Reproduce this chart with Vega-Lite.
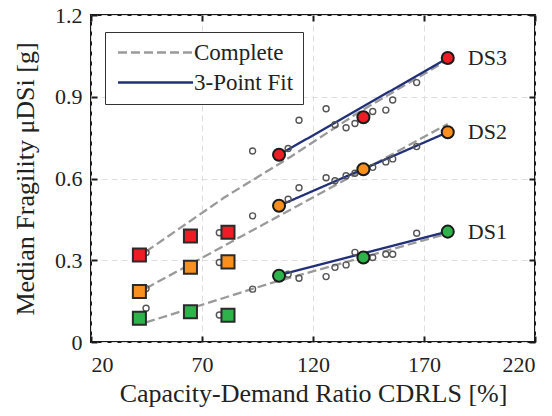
{
  "$schema": "https://vega.github.io/schema/vega-lite/v6.json",
  "width": 444,
  "height": 327,
  "autosize": {"type": "none"},
  "padding": {"left": 91, "top": 15, "right": 17, "bottom": 74},
  "background": "white",
  "config": {
    "view": {"stroke": "#1a1a1a", "strokeWidth": 2},
    "font": "Liberation Serif",
    "axis": {
      "labelFont": "Liberation Serif",
      "labelFontSize": 22,
      "labelColor": "#222222",
      "titleFont": "Liberation Serif",
      "titleFontSize": 26,
      "titleFontWeight": "normal",
      "titleColor": "#222222",
      "domain": false,
      "tickColor": "#1a1a1a",
      "tickWidth": 2,
      "tickSize": -6,
      "gridColor": "#dedede",
      "gridDash": [6, 4],
      "gridWidth": 1
    },
    "legend": {
      "labelFont": "Liberation Serif",
      "labelFontSize": 23,
      "labelColor": "#222222",
      "symbolType": "M-1,0H9",
      "symbolSize": 225,
      "symbolStrokeWidth": 2.5,
      "labelOffset": 57,
      "padding": 9,
      "rowPadding": 6,
      "strokeColor": "#333333",
      "fillColor": "white"
    }
  },
  "datasets": {
    "lines": [
      {"series": "Complete", "ds": "DS3", "x": 44.8, "y": 0.332},
      {"series": "Complete", "ds": "DS3", "x": 80, "y": 0.53},
      {"series": "Complete", "ds": "DS3", "x": 110, "y": 0.68},
      {"series": "Complete", "ds": "DS3", "x": 140, "y": 0.84},
      {"series": "Complete", "ds": "DS3", "x": 180.7, "y": 1.035},
      {"series": "Complete", "ds": "DS2", "x": 44.8, "y": 0.197},
      {"series": "Complete", "ds": "DS2", "x": 180.7, "y": 0.8},
      {"series": "Complete", "ds": "DS1", "x": 44.8, "y": 0.072},
      {"series": "Complete", "ds": "DS1", "x": 100.6, "y": 0.215},
      {"series": "Complete", "ds": "DS1", "x": 180.7, "y": 0.398},
      {"series": "3-Point Fit", "ds": "DS3", "x": 104.7, "y": 0.687},
      {"series": "3-Point Fit", "ds": "DS3", "x": 180.7, "y": 1.042},
      {"series": "3-Point Fit", "ds": "DS2", "x": 104.7, "y": 0.5},
      {"series": "3-Point Fit", "ds": "DS2", "x": 180.7, "y": 0.77},
      {"series": "3-Point Fit", "ds": "DS1", "x": 104.7, "y": 0.245},
      {"series": "3-Point Fit", "ds": "DS1", "x": 180.7, "y": 0.405}
    ],
    "small": [
      {"ds": "DS1", "x": 44.8, "y": 0.124},
      {"ds": "DS1", "x": 77.8, "y": 0.099},
      {"ds": "DS1", "x": 92.8, "y": 0.194},
      {"ds": "DS1", "x": 108.8, "y": 0.249},
      {"ds": "DS1", "x": 113.7, "y": 0.234},
      {"ds": "DS1", "x": 125.9, "y": 0.24},
      {"ds": "DS1", "x": 129.9, "y": 0.274},
      {"ds": "DS1", "x": 134.9, "y": 0.283},
      {"ds": "DS1", "x": 138.9, "y": 0.329},
      {"ds": "DS1", "x": 146.9, "y": 0.31},
      {"ds": "DS1", "x": 152.8, "y": 0.322},
      {"ds": "DS1", "x": 155.9, "y": 0.322},
      {"ds": "DS1", "x": 166.7, "y": 0.399},
      {"ds": "DS2", "x": 44.8, "y": 0.196},
      {"ds": "DS2", "x": 77.8, "y": 0.292},
      {"ds": "DS2", "x": 92.8, "y": 0.463},
      {"ds": "DS2", "x": 108.8, "y": 0.524},
      {"ds": "DS2", "x": 113.7, "y": 0.566},
      {"ds": "DS2", "x": 125.9, "y": 0.603},
      {"ds": "DS2", "x": 129.9, "y": 0.592},
      {"ds": "DS2", "x": 134.9, "y": 0.61},
      {"ds": "DS2", "x": 138.9, "y": 0.619},
      {"ds": "DS2", "x": 146.9, "y": 0.641},
      {"ds": "DS2", "x": 152.8, "y": 0.661},
      {"ds": "DS2", "x": 155.9, "y": 0.672},
      {"ds": "DS2", "x": 166.7, "y": 0.717},
      {"ds": "DS3", "x": 44.8, "y": 0.328},
      {"ds": "DS3", "x": 77.8, "y": 0.401},
      {"ds": "DS3", "x": 92.8, "y": 0.701},
      {"ds": "DS3", "x": 108.8, "y": 0.71},
      {"ds": "DS3", "x": 113.7, "y": 0.814},
      {"ds": "DS3", "x": 125.9, "y": 0.856},
      {"ds": "DS3", "x": 129.9, "y": 0.797},
      {"ds": "DS3", "x": 134.9, "y": 0.786},
      {"ds": "DS3", "x": 138.9, "y": 0.802},
      {"ds": "DS3", "x": 146.9, "y": 0.846},
      {"ds": "DS3", "x": 152.8, "y": 0.851},
      {"ds": "DS3", "x": 155.9, "y": 0.888},
      {"ds": "DS3", "x": 166.7, "y": 0.952}
    ],
    "squares": [
      {"ds": "DS3", "x": 41.8, "y": 0.319},
      {"ds": "DS3", "x": 64.8, "y": 0.389},
      {"ds": "DS3", "x": 81.7, "y": 0.403},
      {"ds": "DS2", "x": 41.8, "y": 0.185},
      {"ds": "DS2", "x": 64.8, "y": 0.274},
      {"ds": "DS2", "x": 81.7, "y": 0.294},
      {"ds": "DS1", "x": 41.8, "y": 0.087},
      {"ds": "DS1", "x": 64.8, "y": 0.111},
      {"ds": "DS1", "x": 81.7, "y": 0.098}
    ],
    "big": [
      {"ds": "DS3", "x": 104.7, "y": 0.687},
      {"ds": "DS3", "x": 142.7, "y": 0.825},
      {"ds": "DS3", "x": 180.7, "y": 1.042},
      {"ds": "DS2", "x": 104.7, "y": 0.5},
      {"ds": "DS2", "x": 142.7, "y": 0.634},
      {"ds": "DS2", "x": 180.7, "y": 0.77},
      {"ds": "DS1", "x": 104.7, "y": 0.243},
      {"ds": "DS1", "x": 142.7, "y": 0.31},
      {"ds": "DS1", "x": 180.7, "y": 0.405}
    ],
    "labels": [
      {"ds": "DS3", "x": 180.7, "y": 1.042},
      {"ds": "DS2", "x": 180.7, "y": 0.77},
      {"ds": "DS1", "x": 180.7, "y": 0.405}
    ]
  },
  "layer": [
    {
      "data": {"name": "lines"},
      "mark": {"type": "line", "strokeWidth": 2.3},
      "encoding": {
        "x": {
          "field": "x", "type": "quantitative",
          "scale": {"domain": [20, 220], "nice": false, "zero": false},
          "axis": {
            "orient": "bottom",
            "values": [20, 70, 120, 170, 220],
            "title": "Capacity-Demand Ratio CDRLS [%]",
            "labelPadding": 18,
            "titlePadding": 5,
            "grid": true
          }
        },
        "y": {
          "field": "y", "type": "quantitative",
          "scale": {"domain": [0, 1.2], "nice": false, "zero": false},
          "axis": {
            "orient": "left",
            "values": [0, 0.3, 0.6, 0.9, 1.2],
            "format": "~g",
            "title": "Median Fragility μDSi [g]",
            "labelPadding": 15,
            "titlePadding": 16,
            "grid": true
          }
        },
        "stroke": {
          "field": "series", "type": "nominal",
          "scale": {"domain": ["Complete", "3-Point Fit"], "range": ["#9a9a9a", "#22307a"]},
          "legend": {"title": null, "orient": "none", "legendX": 14, "legendY": 17}
        },
        "strokeDash": {
          "field": "series", "type": "nominal",
          "scale": {"domain": ["Complete", "3-Point Fit"], "range": [[9, 4], [1, 0]]},
          "legend": {"title": null, "orient": "none", "legendX": 14, "legendY": 17}
        },
        "detail": {"field": "ds", "type": "nominal"}
      }
    },
    {
      "data": {"name": "small"},
      "mark": {"type": "point", "shape": "circle", "filled": false, "stroke": "#555555", "strokeWidth": 1.4, "size": 36, "opacity": 1},
      "encoding": {
        "x": {
          "field": "x", "type": "quantitative",
          "scale": {"domain": [20, 220], "nice": false, "zero": false},
          "axis": {"orient": "top", "values": [20, 70, 120, 170, 220], "labels": false, "title": null, "grid": false}
        },
        "y": {
          "field": "y", "type": "quantitative",
          "scale": {"domain": [0, 1.2], "nice": false, "zero": false},
          "axis": {"orient": "right", "values": [0, 0.3, 0.6, 0.9, 1.2], "labels": false, "title": null, "grid": false}
        }
      }
    },
    {
      "data": {"name": "squares"},
      "mark": {"type": "square", "stroke": "#2a2a2a", "strokeWidth": 2, "size": 170, "opacity": 1},
      "encoding": {
        "x": {"field": "x", "type": "quantitative", "axis": null},
        "y": {"field": "y", "type": "quantitative", "axis": null},
        "fill": {
          "field": "ds", "type": "nominal",
          "scale": {"domain": ["DS1", "DS2", "DS3"], "range": ["#2db34a", "#f7901e", "#ee1c25"]},
          "legend": null
        }
      }
    },
    {
      "data": {"name": "big"},
      "mark": {"type": "circle", "stroke": "#1a1a1a", "strokeWidth": 2, "size": 145, "opacity": 1},
      "encoding": {
        "x": {"field": "x", "type": "quantitative", "axis": null},
        "y": {"field": "y", "type": "quantitative", "axis": null},
        "fill": {"field": "ds", "type": "nominal", "legend": null}
      }
    },
    {
      "data": {"name": "labels"},
      "mark": {"type": "text", "align": "left", "baseline": "middle", "dx": 20, "font": "Liberation Serif", "fontSize": 22, "color": "#222222"},
      "encoding": {
        "x": {"field": "x", "type": "quantitative", "axis": null},
        "y": {"field": "y", "type": "quantitative", "axis": null},
        "text": {"field": "ds", "type": "nominal"}
      }
    }
  ],
  "resolve": {"axis": {"x": "independent", "y": "independent"}}
}
